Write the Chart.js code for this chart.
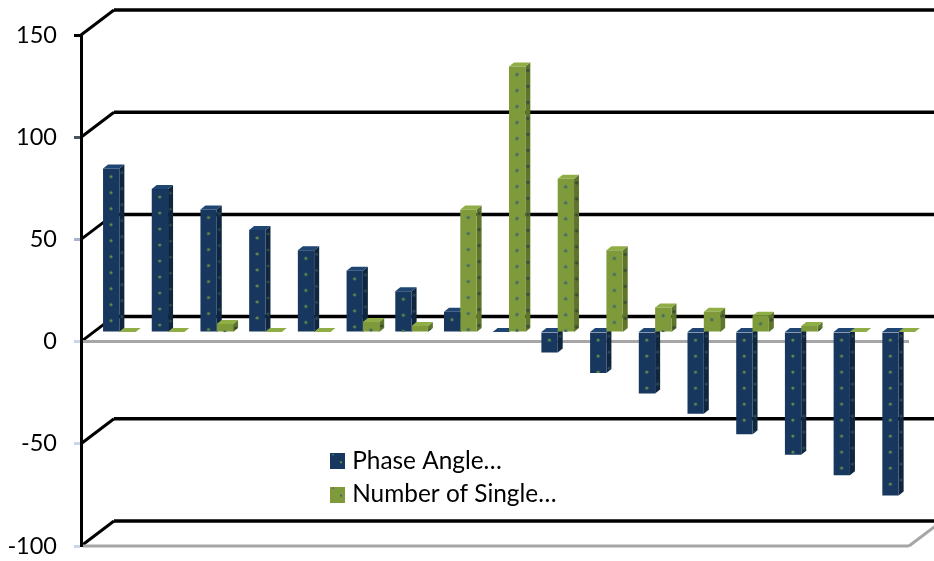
<!DOCTYPE html>
<html>
<head>
<meta charset="utf-8">
<style>
  html, body { margin: 0; padding: 0; background: #fff; }
  canvas { display: block; }
</style>
<script src="https://cdn.jsdelivr.net/npm/chart.js@4"></script>
</head>
<body>
<canvas id="myChart" width="934" height="561"></canvas>
<script>
const categories = ['1','2','3','4','5','6','7','8','9','10','11','12','13','14','15','16','17'];
const phaseAngle = [80, 70, 60, 50, 40, 30, 20, 10, 0, -10, -20, -30, -40, -50, -60, -70, -80];
const singles = [0, 0, 4, 0, 0, 5, 3, 60, 130, 75, 40, 12, 10, 8, 3, 0, 0];
const seriesNames = ['Phase Angle…', 'Number of Single…'];
const yTicks = [-100, -50, 0, 50, 100, 150];

const navy = { front: '#17375e', side: '#10263f', top: '#1f4672', dot: '#648a4c', sideDot: '#2d4a52' };
const green = { front: '#7f9a3b', side: '#5f752c', top: '#8fae45', dot: '#3f6470', sideDot: '#2f4a3a' };
const tickColors = { '150': '#000', '100': '#4a5264', '50': '#a9b4cc', '0': '#ccd6ea', '-50': '#ccd6ea', '-100': '#ccd6ea' };

// depth of the box: bars stand part way back, walls at the far end
const BAR_DX = 14, BAR_DY = -9.5;
const SIDE_DX = 5, SIDE_DY = -4;
const WALL_DX = 33, WALL_DY = -25;

function dotTile(color, size) {
  const c = document.createElement('canvas');
  c.width = size;
  c.height = size;
  const g = c.getContext('2d');
  g.fillStyle = color;
  g.beginPath();
  g.arc(size / 2, size / 2, 1.6, 0, Math.PI * 2);
  g.fill();
  return c;
}

function swatch(colors) {
  const c = document.createElement('canvas');
  c.width = 15;
  c.height = 16;
  const g = c.getContext('2d');
  g.fillStyle = colors.front;
  g.fillRect(0, 0, 15, 16);
  g.fillStyle = colors.dot;
  g.fillRect(2, 1, 2, 1);
  g.fillRect(10, 8, 2, 2);
  return c;
}

function poly(ctx, fill, pts) {
  ctx.fillStyle = fill;
  ctx.beginPath();
  pts.forEach((p, i) => i ? ctx.lineTo(p[0], p[1]) : ctx.moveTo(p[0], p[1]));
  ctx.closePath();
  ctx.fill();
}

function line(ctx, color, width, x1, y1, x2, y2) {
  ctx.strokeStyle = color;
  ctx.lineWidth = width;
  ctx.beginPath();
  ctx.moveTo(x1, y1);
  ctx.lineTo(x2, y2);
  ctx.stroke();
}

function barEdges(bar, base) {
  return {
    l: bar.x - bar.width / 2,
    r: bar.x + bar.width / 2,
    t: Math.min(bar.y, base),
    b: Math.max(bar.y, base)
  };
}

// back wall, left wall and floor lines
const walls = {
  id: 'walls',
  beforeDatasetsDraw(chart) {
    const { ctx, chartArea: a, scales: { y } } = chart;
    ctx.save();
    ctx.lineJoin = 'round';
    yTicks.forEach(v => {
      const py = y.getPixelForValue(v);
      line(ctx, '#000', 3, a.left, py, a.left + WALL_DX, py + WALL_DY);
      line(ctx, '#000', 3.5, a.left + WALL_DX, py + WALL_DY, a.right + WALL_DX, py + WALL_DY);
    });
    const zero = y.getPixelForValue(0);
    line(ctx, '#a6a6a6', 3, a.left + 2, zero, a.right, zero);
    line(ctx, '#a6a6a6', 3, a.left + 2, a.bottom, a.right, a.bottom);
    line(ctx, '#a6a6a6', 3, a.right, a.bottom, a.right + WALL_DX, a.bottom + WALL_DY);
    ctx.restore();
  }
};

// side and top faces go down first, navy then green, so each front covers what is behind it
const faces = {
  id: 'faces',
  beforeDatasetsDraw(chart) {
    const ctx = chart.ctx;
    const base = chart.scales.y.getPixelForValue(0);
    [navy, green].forEach((colors, i) => {
      const sideDots = ctx.createPattern(dotTile(colors.sideDot, 16), 'repeat');
      chart.getDatasetMeta(i).data.forEach(bar => {
        const { l, r, t, b } = barEdges(bar, base);
        const side = [[r, t], [r + SIDE_DX, t + SIDE_DY], [r + SIDE_DX, b + SIDE_DY], [r, b]];
        ctx.save();
        ctx.translate(BAR_DX, BAR_DY);
        poly(ctx, colors.side, side);
        poly(ctx, colors.top, [[l, t], [l + SIDE_DX, t + SIDE_DY], [r + SIDE_DX, t + SIDE_DY], [r, t]]);
        // dots on the side run from the same start as the front ones
        ctx.translate(r + SIDE_DX / 2 - 8, t + SIDE_DY);
        poly(ctx, sideDots, side.map(p => [p[0] - (r + SIDE_DX / 2 - 8), p[1] - (t + SIDE_DY)]));
        ctx.restore();
      });
    });
  }
};

// front faces sit on the bar plane, dotted from each bar's own corner
const fronts = {
  id: 'fronts',
  beforeDatasetDraw(chart) {
    chart.ctx.save();
    chart.ctx.translate(BAR_DX, BAR_DY);
  },
  afterDatasetDraw(chart, args) {
    const ctx = chart.ctx;
    const colors = args.index === 0 ? navy : green;
    const base = chart.scales.y.getPixelForValue(0);
    const dots = ctx.createPattern(dotTile(colors.dot, 16), 'repeat');
    args.meta.data.forEach(bar => {
      const { l, t, b } = barEdges(bar, base);
      ctx.save();
      ctx.translate(l, t);
      ctx.fillStyle = dots;
      ctx.fillRect(0, 0, bar.width, b - t);
      ctx.restore();
    });
    ctx.restore();
  }
};

// legend sits inside the plot, under the bars
const legendSpot = {
  id: 'legendSpot',
  afterLayout(chart) {
    const l = chart.legend;
    const w = l.width, h = l.height;
    l.left = 326;
    l.top = 440;
    l.right = l.left + w;
    l.bottom = l.top + h;
  }
};

const swatches = [swatch(navy), swatch(green)];
const font = 'Lato, Carlito, Calibri, sans-serif';

new Chart(document.getElementById('myChart'), {
  type: 'bar',
  data: {
    labels: categories,
    datasets: [
      { label: seriesNames[0], data: phaseAngle, backgroundColor: navy.front },
      { label: seriesNames[1], data: singles, backgroundColor: green.front }
    ]
  },
  plugins: [walls, faces, fronts, legendSpot],
  options: {
    responsive: false,
    animation: false,
    categoryPercentage: 0.67,
    barPercentage: 1,
    layout: { padding: { top: 35, right: 25, bottom: 15, left: 0 } },
    scales: {
      x: { display: false },
      y: {
        min: -100,
        max: 150,
        afterFit: s => {
          s.width = 81;
          // the tick gap must not eat into the plot height
          s.paddingTop = 0;
          s.paddingBottom = 0;
        },
        afterBuildTicks: s => { s.ticks = yTicks.map(v => ({ value: v })); },
        border: { color: '#000', width: 3 },
        grid: {
          drawOnChartArea: false,
          tickLength: 7,
          tickWidth: 3,
          tickColor: c => tickColors[c.tick.value]
        },
        ticks: { color: '#000', padding: 17, font: { family: font, size: 23.5 } }
      }
    },
    plugins: {
      tooltip: { enabled: false },
      legend: {
        position: 'chartArea',
        align: 'start',
        labels: {
          color: '#000',
          font: { family: font, size: 24.4 },
          usePointStyle: true,
          boxWidth: 5,
          boxHeight: 16,
          padding: 9,
          generateLabels(chart) {
            const items = Chart.defaults.plugins.legend.labels.generateLabels(chart);
            items.forEach((it, i) => { it.pointStyle = swatches[i]; });
            return items;
          }
        }
      }
    }
  }
});
</script>
</body>
</html>
